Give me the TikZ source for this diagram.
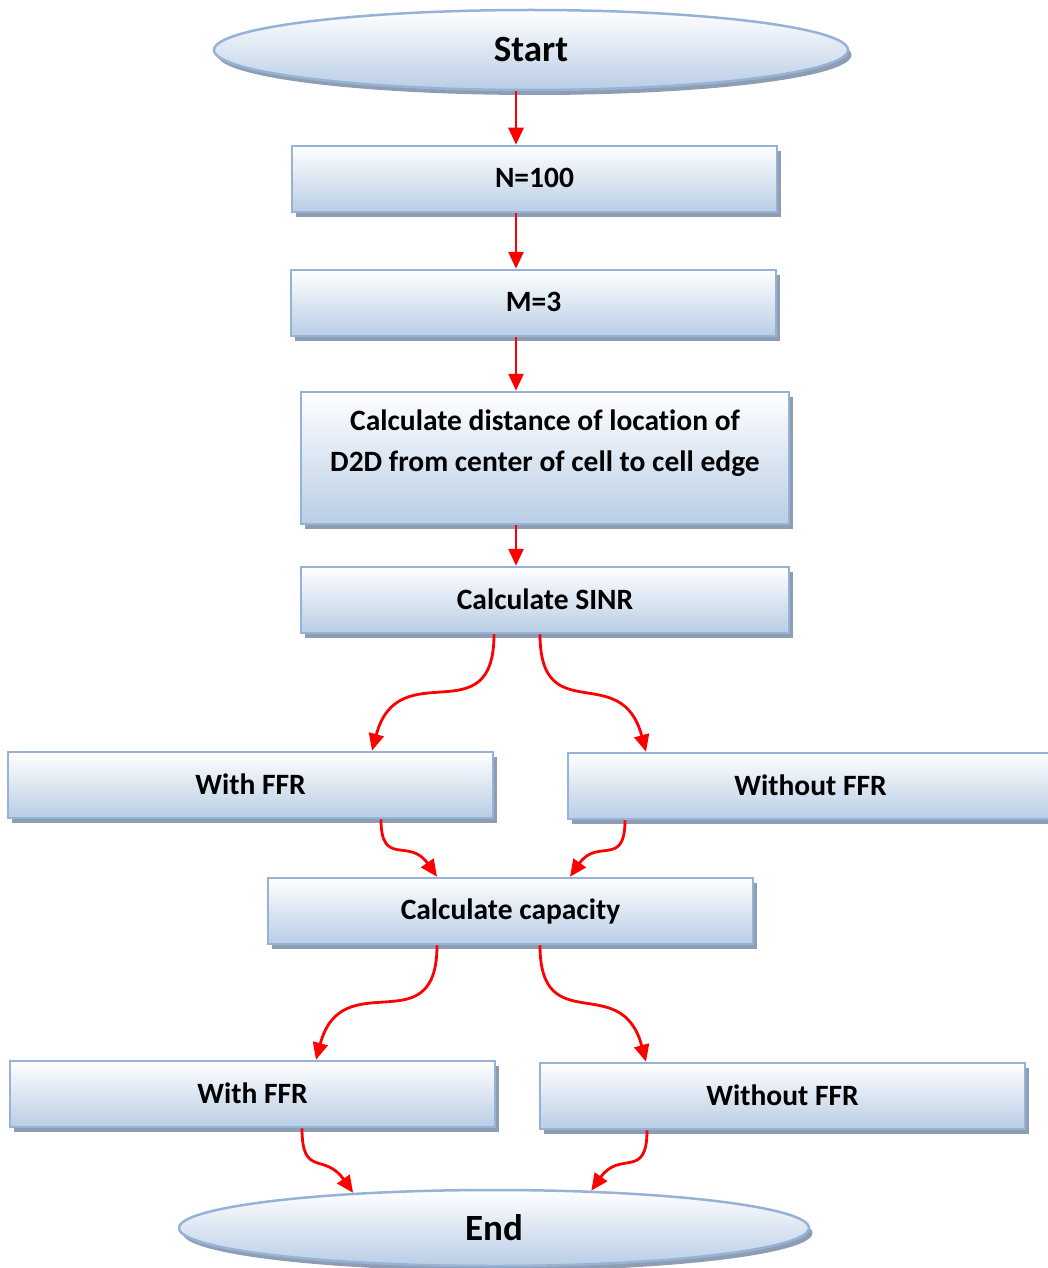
\documentclass[tikz,border=0pt]{standalone}
\usepackage{fontspec}
\setmainfont[Ligatures=NoCommon]{Carlito}
\usetikzlibrary{arrows.meta,shapes.geometric,shadows}

\definecolor{boxedge}{HTML}{95B3D7}
\definecolor{boxfill}{HTML}{B9CDE5}
\definecolor{shadowgray}{HTML}{8E9DB2}
\definecolor{flowred}{HTML}{FF0000}

\tikzset{
  stepbox/.style={
    rectangle, draw=boxedge, line width=2.5pt,
    top color=white, bottom color=boxfill,
    general shadow={shadow xshift=3.5pt, shadow yshift=-5pt, fill=shadowgray},
    minimum width=485pt, minimum height=66pt, inner sep=0pt,
    font=\fontsize{29.5}{41}\selectfont\bfseries, align=center},
  terminal/.style={
    ellipse, draw=boxedge, line width=2.5pt,
    top color=white, bottom color=boxfill,
    general shadow={shadow xshift=3.5pt, shadow yshift=-5pt, fill=shadowgray},
    inner sep=0pt, font=\fontsize{37}{44}\selectfont\bfseries},
  label/.style={font=\fontsize{29.5}{41}\selectfont\bfseries, align=center, inner sep=0pt},
  flow/.style={draw=flowred, line width=2.8pt,
    -{Triangle[length=17pt,width=15pt]}},
  swing/.style={looseness=1.55},
}

\begin{document}
\begin{tikzpicture}[x=1pt,y=-1pt]
\useasboundingbox (0,0) rectangle (1047,1268);

% terminals
\node[terminal, minimum width=634pt, minimum height=80pt] (start) at (531,50) {Start};
\node[terminal, minimum width=630pt, minimum height=76pt] (end) at (494,1228) {End};

% sequential steps
\node[stepbox] (n100) at (534.5,179) {\raisebox{2pt}{N=100}};
\node[stepbox] (m3) at (533.5,303) {\raisebox{2pt}{M=3}};
\node[stepbox, minimum width=488pt, minimum height=132pt] (dist) at (545,458) {};
\node[label] (disttext) at (545,443) {Calculate distance of location of\\D2D from center of cell to cell edge};
\node[stepbox, minimum width=488pt] (sinr) at (545,600) {\raisebox{2pt}{Calculate SINR}};

% first branch
\node[stepbox] (ffr1) at (250.5,785) {\raisebox{2pt}{With FFR}};
\node[stepbox] (noffr1) at (810.5,786) {\raisebox{2pt}{Without FFR}};
\node[stepbox] (cap) at (510.5,911) {\raisebox{2pt}{Calculate capacity}};

% second branch
\node[stepbox] (ffr2) at (252.5,1094) {\raisebox{2pt}{With FFR}};
\node[stepbox] (noffr2) at (782.5,1096) {\raisebox{2pt}{Without FFR}};

% straight connectors
\draw[flow] ([xshift=-15pt]start.south) -- ([xshift=-18.5pt]n100.north);
\draw[flow] ([xshift=-18.5pt]n100.south) -- ([xshift=-17.5pt]m3.north);
\draw[flow] ([xshift=-17.5pt]m3.south) -- ([xshift=-29pt]dist.north);
\draw[flow] ([xshift=-29pt]dist.south) -- ([xshift=-29pt]sinr.north);

% curved connectors
\draw[flow] ([xshift=-51pt]sinr.south) to[out=-90,in=75,swing] ([xshift=121.5pt]ffr1.north);
\draw[flow] ([xshift=-5pt]sinr.south) to[out=-90,in=105,swing] ([xshift=-164.5pt]noffr1.north);
\draw[flow] ([xshift=130.5pt]ffr1.south) to[out=-90,in=125,swing] ([xshift=-73.5pt]cap.north);
\draw[flow] ([xshift=-185.5pt]noffr1.south) to[out=-90,in=55,swing] ([xshift=59.5pt]cap.north);
\draw[flow] ([xshift=-73.5pt]cap.south) to[out=-90,in=75,swing] ([xshift=63.5pt]ffr2.north);
\draw[flow] ([xshift=29.5pt]cap.south) to[out=-90,in=105,swing] ([xshift=-136.5pt]noffr2.north);
\draw[flow] ([xshift=49.5pt]ffr2.south) to[out=-90,in=125,swing] (end.166);
\draw[flow] ([xshift=-135.5pt]noffr2.south) to[out=-90,in=55,swing] (end.21);
\end{tikzpicture}
\end{document}
